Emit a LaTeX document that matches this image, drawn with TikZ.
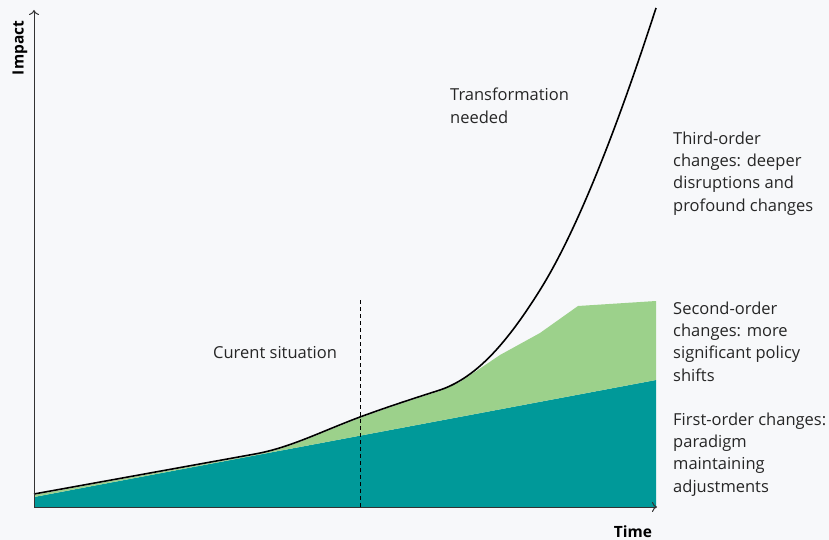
\documentclass[tikz,border=0pt]{standalone}
\usepackage{fontspec}
\setmainfont{Open Sans}
\usetikzlibrary{arrows.meta}
\definecolor{bgc}{HTML}{F7F8FA}
\definecolor{tealc}{HTML}{009999}
\definecolor{greenc}{HTML}{9CD18B}
\definecolor{axisc}{HTML}{333333}
\begin{document}
\begin{tikzpicture}[x=1pt,y=-1pt,
  lbl/.style={inner sep=0pt, align=left, anchor=base west, text=black!85,
    font=\fontsize{16.5}{22.4}\selectfont},
  axlbl/.style={inner sep=0pt, text=black, font=\fontsize{15.5}{18}\selectfont\bfseries},
  axisline/.style={draw=axisc, line width=1pt, -{To[length=5pt,width=10pt]}},
  curve/.style={draw=black, line width=1.6pt},
]
\fill[bgc] (0,0) rectangle (829,540);
\useasboundingbox (0,0) rectangle (829,540);

\coordinate (o) at (34,507);
\coordinate (ytip) at (34,10);
\coordinate (xtip) at (657,507);
\coordinate (dtop) at (360,300);
\coordinate (dbot) at (360,507);

% first-order area
\fill[tealc] (34,497) -- (656,380) -- (656,507) -- (34,507) -- cycle;
% second-order area
\fill[greenc] (34,495) -- (255,455) .. controls (290,448.7) and (320,433) .. (360,418)
  .. controls (390,407) and (415,399) .. (440,391) -- (460,382) -- (500,355) -- (540,333)
  -- (578,306) -- (656,301) -- (656,380) -- (34,497) -- cycle;
% transformation curve
\draw[curve, line join=round] (34,494) -- (255,454) .. controls (290,447.7) and (320,432) .. (360,417)
  .. controls (390,406) and (415,398) .. (440,390)
  .. controls (475,378) and (505,346) .. (540,290)
  .. controls (580,226) and (621,116) .. (656,8);

% axes
\draw[axisline] (o) -- (ytip);
\draw[axisline] (o) -- (xtip);
\draw[black, line width=1pt, dash pattern=on 4pt off 3pt] (dtop) -- (dbot);

\node[axlbl, rotate=90] (impact) at (20,48) {Impact};
\node[axlbl] (time) at (633,532) {Time};

\node[lbl] (cur) at (213,358) {Curent situation};
\node[lbl] (trans) at (450,123.4) {Transformation\\needed};
\node[lbl] (third) at (673,211.2) {Third-order\\changes: deeper\\disruptions and\\profound changes};
\node[lbl] (second) at (673,381.2) {Second-order\\changes: more\\significant policy\\shifts};
\node[lbl] (first) at (673,492.2) {First-order changes:\\paradigm\\maintaining\\adjustments};
\end{tikzpicture}
\end{document}
